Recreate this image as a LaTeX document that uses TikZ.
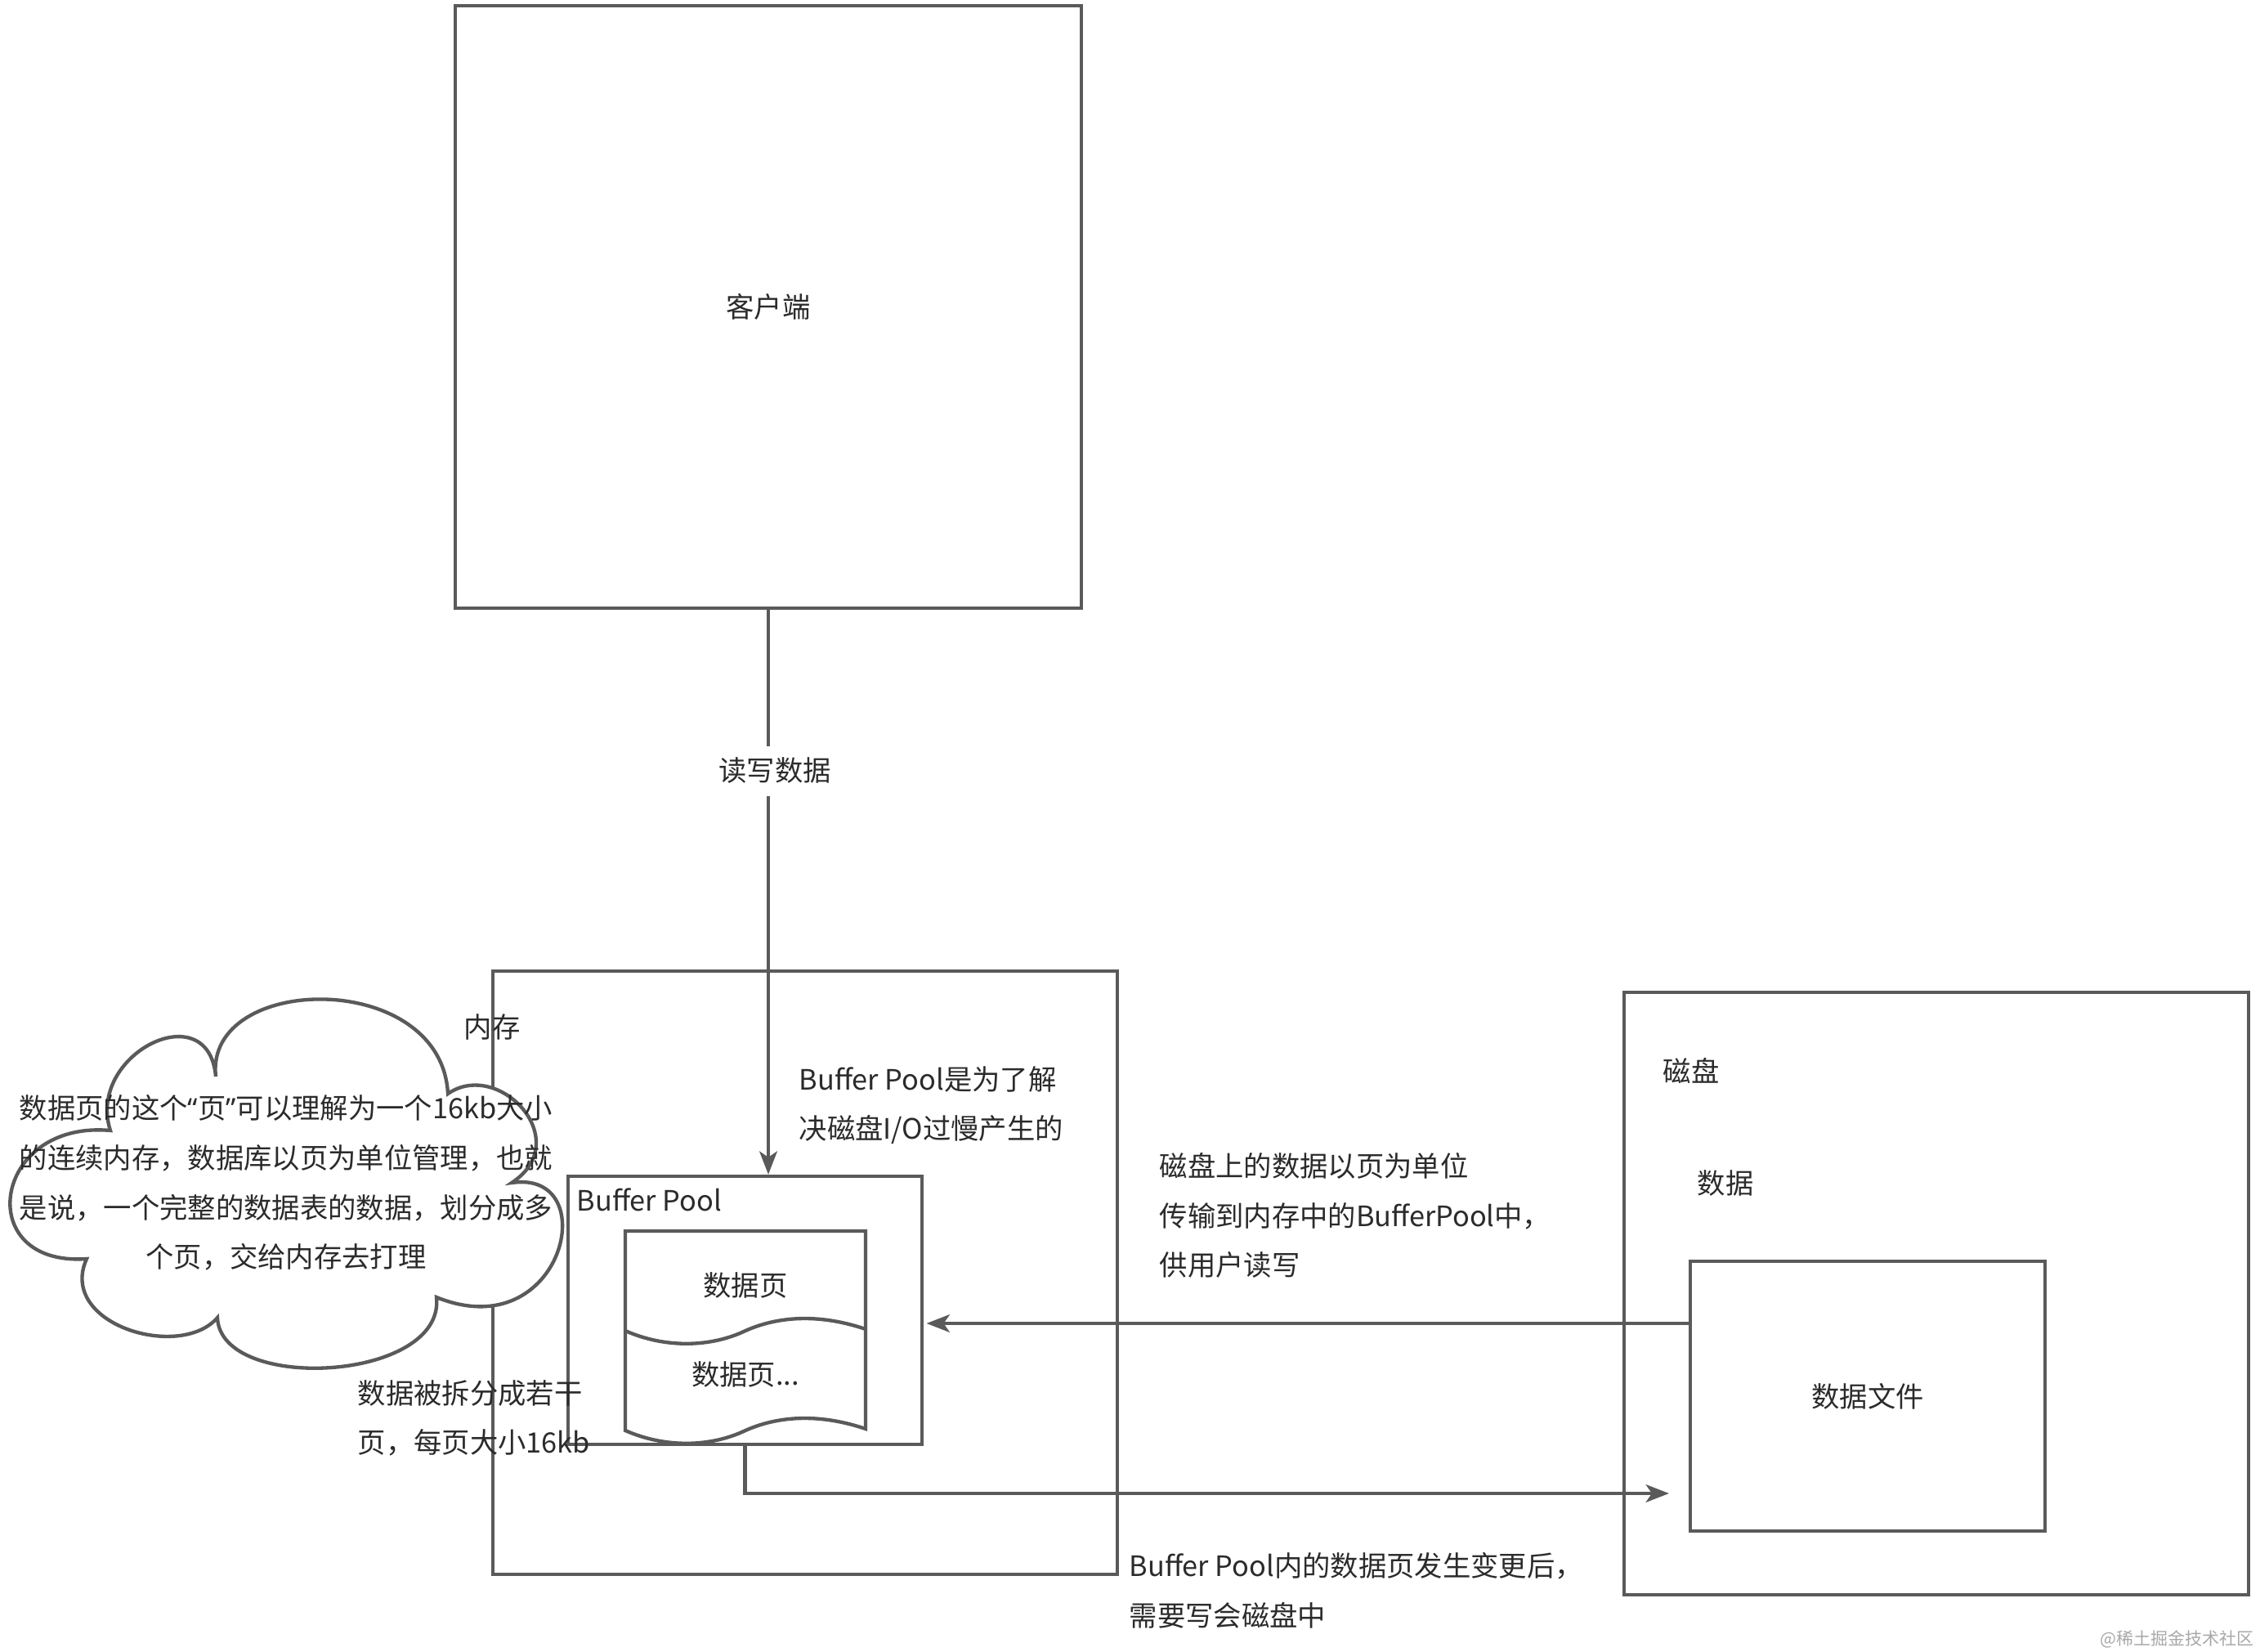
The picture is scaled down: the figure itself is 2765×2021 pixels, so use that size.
\documentclass[tikz,border=0pt]{standalone}
\usepackage{fontspec}
\setmainfont{Noto Sans CJK SC}
\newfontfamily\latinq{Noto Sans}
\usetikzlibrary{arrows.meta,fit}
\definecolor{lc}{HTML}{5A5A5A}
\definecolor{tc}{HTML}{2B2B2B}
\definecolor{wmc}{HTML}{A8A8A8}
\begin{document}
\begin{tikzpicture}[x=0.3pt,y=-0.3pt,
  ln/.style={draw=lc, line width=1.3pt},
  box/.style={ln, rectangle, inner sep=0pt},
  txt/.style={font=\fontsize{10.3pt}{18.2pt}\selectfont, text=tc, inner sep=0pt},
  arr/.style={ln, -{Stealth[length=8.5pt,width=6.5pt,inset=2.2pt]}},
  lbl/.style={txt, fill=white, minimum height=18.3pt, inner xsep=1pt}]
\fill[white] (0,0) rectangle (2765,2021);
\useasboundingbox (0,0) rectangle (2765,2021);

% client
\node[box, fit={(557,7) (1323,744)}] (client) {};
\node[txt] (clienttxt) at (client.center) {客户端};

% memory
\node[box, fit={(603,1188) (1367,1926)}] (mem) {};
\node[txt] (memlbl) at (602,1256) {内存};

% cloud
\draw[ln, fill=white] (135,1383)
  .. controls (105,1290) and (255,1215) .. (264,1317)
  .. controls (250,1190) and (540,1185) .. (548,1338)
  .. controls (610,1295) and (705,1395) .. (626,1447)
  .. controls (740,1430) and (690,1650) .. (534,1587)
  .. controls (545,1690) and (270,1705) .. (266,1612)
  .. controls (220,1665) and (70,1620) .. (106,1540)
  .. controls (-35,1550) and (-10,1370) .. (135,1383) -- cycle;
\node[txt, align=center] (cloudtxt) at (350,1447) {数据页的这个{\latinq “}页{\latinq ”}可以理解为一个16kb大小\\的连续内存，数据库以页为单位管理，也就\\是说，一个完整的数据表的数据，划分成多\\个页，交给内存去打理};

% buffer pool
\node[box, fit={(695,1439) (1128,1767)}] (bp) {};
\node[txt, anchor=west] (bplbl) at (705,1468) {Buffer Pool};
\draw[ln, fill=white] (765,1506) -- (1059,1506) -- (1059,1748)
  .. controls (1000,1728) and (950,1733) .. (912,1750)
  .. controls (870,1770) and (815,1772) .. (765,1750) -- cycle;
\draw[ln] (765,1628) .. controls (815,1650) and (870,1648) .. (912,1628)
  .. controls (950,1611) and (1000,1606) .. (1059,1626);
\node[txt] (pg1) at (912,1572) {数据页};
\node[txt] (pg2) at (912,1681) {数据页...};

% disk
\node[box, fit={(1987,1214) (2751,1951)}] (disk) {};
\node[txt] (disklbl) at (2069,1310) {磁盘};
\node[txt] (datalbl) at (2111,1447) {数据};
\node[box, fit={(2068,1543) (2502,1873)}] (file) {};
\node[txt] (filetxt) at (file.center) {数据文件};

% connectors
\draw[arr] (client.south) -- (client.south |- bp.north)
  node[lbl, pos=0.285, xshift=2.4pt] (rwlbl) {读写数据};
\draw[arr, shorten >=1pt] (file.west |- 0,1619) -- (bp.east |- 0,1619);
\coordinate (wend) at (2042,1827);
\draw[arr] (bp.south) |- (wend);

% notes
\node[txt, anchor=west, align=left] (bpnote) at (977,1352) {Buffer Pool是为了解\\决磁盘I/O过慢产生的};
\node[txt, anchor=west, align=left] (xfer) at (1418,1487) {磁盘上的数据以页为单位\\传输到内存中的BufferPool中，\\供用户读写};
\node[txt, anchor=west, align=left] (wb) at (1381,1946) {Buffer Pool内的数据页发生变更后，\\需要写会磁盘中};
\node[txt, anchor=west, align=left] (split) at (437,1735) {数据被拆分成若干\\页，每页大小16kb};
\node[font=\fontsize{6.3pt}{7pt}\selectfont, text=wmc, anchor=east, inner sep=0pt] (wm) at (2758,2005) {@稀土掘金技术社区};
\end{tikzpicture}
\end{document}
